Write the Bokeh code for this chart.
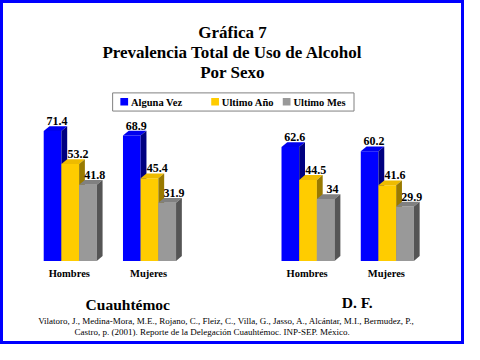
from bokeh.plotting import figure
from bokeh.models import Range1d
from bokeh.core.properties import value
from bokeh.embed import file_html
from bokeh.resources import INLINE

# ---- data ----
regions = ["Cuauhtémoc", "D. F."]
sexes = ["Hombres", "Mujeres"]
series = ["Alguna Vez", "Ultimo Año", "Ultimo Mes"]
alguna_vez = [71.4, 68.9, 62.6, 60.2]   # Cuauhtémoc H, M, D.F. H, M
ultimo_anio = [53.2, 45.4, 44.5, 41.6]
ultimo_mes = [41.8, 31.9, 34, 29.9]
title_lines = ["Gráfica 7", "Prevalencia Total de Uso de Alcohol", "Por Sexo"]
citation = ["Vilatoro, J., Medina-Mora,  M.E., Rojano, C., Fleiz, C., Villa, G., Jasso, A., Alcántar, M.I., Bermudez, P.,",
            "Castro, p. (2001). Reporte de la Delegación Cuauhtémoc. INP-SEP. México."]

# ---- style / layout ----
front = ["#0000FF", "#FFCC00", "#999999"]
topc = ["#0000EE", "#EEBB00", "#808080"]
sidec = ["#000080", "#997A00", "#555555"]
SERIF = value("Liberation Serif")

W, H = 464, 344
REF_W, REF_H = 480, 360
BASE = 272.5     # reference y of the zero line
PX = 1.905       # reference pixels per unit
def vy(ypx):
    return (BASE - ypx) / PX

p = figure(width=W, height=H, output_backend="svg", toolbar_location=None,
           x_range=Range1d(0, REF_W), y_range=Range1d(vy(REF_H), vy(0)),
           min_border=0)
p.axis.visible = False
p.grid.visible = False
p.outline_line_color = "#0000FF"
p.outline_line_width = 5
p.background_fill_color = "white"
p.border_fill_color = "white"

bw = 18.3
dx = 6.0
dyv = 5.0 / PX
x0 = 44.7
region_step = 246
sex_step = 82
lab_off = [4.5, 8.0, 7.0]

all_vals = [alguna_vez, ultimo_anio, ultimo_mes]
for s, vals in enumerate(all_vals):
    L, R, T = [], [], []
    tx, ty = [], []
    sx, sy = [], []
    labx, laby, labt = [], [], []
    for i, v in enumerate(vals):
        r, k = divmod(i, 2)
        left = x0 + r * region_step + k * sex_step + s * bw
        right = left + bw
        L.append(left); R.append(right); T.append(v)
        tx.append([left, right, right + dx, left + dx])
        ty.append([v, v, v + dyv, v + dyv])
        sx.append([right, right + dx, right + dx, right])
        sy.append([0, dyv, v + dyv, v])
        labx.append(left + bw / 2 + lab_off[s])
        laby.append(v + dyv + 1.2 / PX)
        labt.append(f"{v:g}")
    p.quad(left=L, right=R, bottom=0, top=T, fill_color=front[s], line_color=None)
    p.patches(xs=tx, ys=ty, fill_color=topc[s], line_color=None)
    p.patches(xs=sx, ys=sy, fill_color=sidec[s], line_color=None)
    p.text(x=labx, y=laby, text=labt, text_font=SERIF, text_font_style="bold",
           text_font_size="12px", text_align="center", text_baseline="bottom", text_color="black")

# category labels
cx, cy, ct = [], [], []
for r in range(len(regions)):
    for k, sx_name in enumerate(sexes):
        cx.append(x0 + r * region_step + k * sex_step + 1.5 * bw - 1)
        cy.append(vy(286))
        ct.append(sx_name)
p.text(x=cx, y=cy, text=ct, text_font=SERIF, text_font_style="bold", text_font_size="10.5px",
       text_align="center", text_baseline="middle", text_color="black")

# region labels
p.text(x=[131.7, 369], y=[vy(318), vy(316.5)], text=regions, text_font=SERIF, text_font_style="bold",
       text_font_size="15.5px", text_align="center", text_baseline="middle", text_color="black")

# title
p.text(x=[240, 240, 240], y=[vy(33), vy(54), vy(75)], text=title_lines, text_font=SERIF,
       text_font_style="bold", text_font_size="17px", text_align="center", text_baseline="middle",
       text_color="black")

# citation
p.text(x=[235, 219], y=[vy(335), vy(347)], text=citation, text_font=SERIF, text_font_size="9px",
       text_align="center", text_baseline="middle", text_color="black")

# legend
p.quad(left=[116], right=[365.7], bottom=[vy(115.7)], top=[vy(96.7)], fill_color="white",
       line_color="#808080", line_width=1)
sq_x = [128, 222, 296]
p.rect(x=sq_x, y=[vy(106)] * 3, width=8, height=8 / PX, fill_color=front, line_color=None)
p.text(x=[x + 7 for x in sq_x], y=[vy(106.5)] * 3, text=series, text_font=SERIF, text_font_style="bold",
       text_font_size="10.5px", text_align="left", text_baseline="middle", text_color="black")

open("out.html", "w").write(file_html(p, INLINE))
